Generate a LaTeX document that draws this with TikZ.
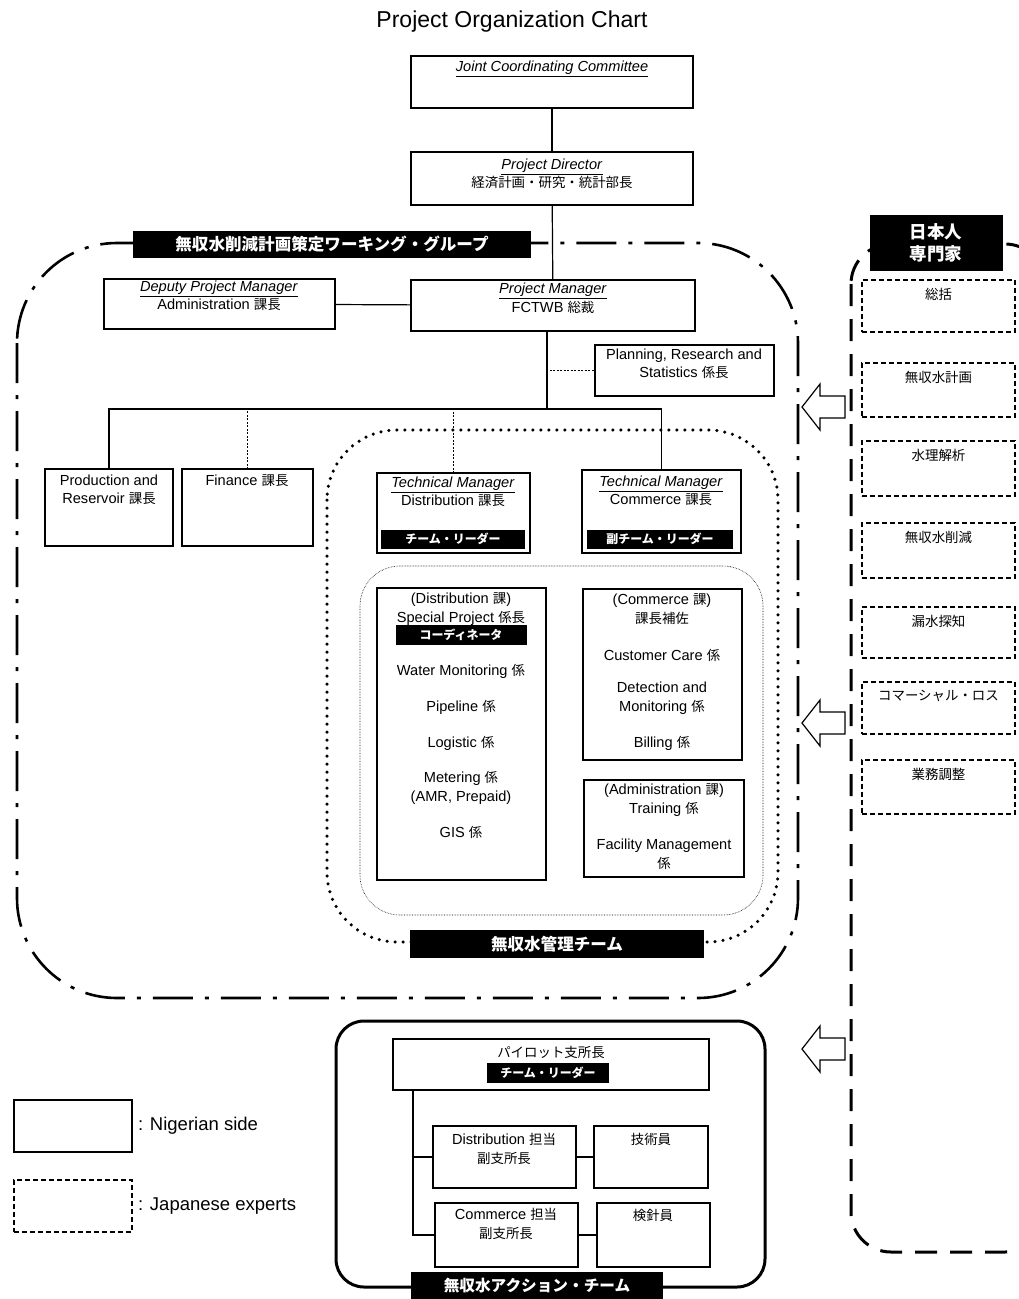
\documentclass[tikz,border=0pt]{standalone}
\usepackage{fontspec}
\setmainfont{Liberation Sans}
\newfontfamily\jp[Scale=0.92]{Noto Sans CJK JP}
\newcommand{\ja}[1]{{\jp #1}}
\newcommand{\ulit}[1]{\underline{\textit{#1}}}
\usetikzlibrary{positioning}

\begin{document}
\begin{tikzpicture}[
    x=1pt, y=-1pt,
    every node/.style={inner sep=0pt, outer sep=0pt},
    nbox/.style={draw, line width=1.2pt, anchor=north west},
    jbox/.style={draw, line width=1.2pt, dash pattern=on 5pt off 3pt, anchor=north west},
    lbl/.style={align=center, font=\fontsize{14.6}{18.5}\selectfont},
    banner/.style={fill=black, text=white, align=center,
        font=\jp\bfseries\fontsize{13}{16}\selectfont},
    link/.style={line width=1.2pt},
    thinlink/.style={line width=0.6pt, dash pattern=on 2pt off 1.5pt},
    hollowarrow/.style={draw, line width=1.2pt, fill=white, line join=miter},
    lefthollow/.pic={
        \draw[hollowarrow] (25,-11) -- (0,-11) -- (0,-23) -- (-18,0)
            -- (0,23) -- (0,11) -- (25,11) -- cycle;
    }
]
\useasboundingbox (0,0) rectangle (1019,1299);

% group outlines
\draw[line width=2.6pt, dash pattern=on 40pt off 12pt on 4pt off 12pt, rounded corners=100pt]
    (17,243) rectangle (798,998);
\draw[line width=3.5pt, line cap=round, dash pattern=on 0pt off 8pt, rounded corners=70pt]
    (327,430) rectangle (778,942);
\draw[line width=0.6pt, densely dotted, rounded corners=40pt]
    (360,566) rectangle (763,915);
\draw[line width=3pt, rounded corners=28pt] (336,1021) rectangle (765,1287);
\draw[line width=3pt, dash pattern=on 22pt off 13pt, rounded corners=40pt]
    (851,244) rectangle (1045,1252);

\node[font=\fontsize{23}{27}\selectfont] (title) at (512,22) {Project Organization Chart};

% nigerian side
\node[nbox, minimum width=282pt, minimum height=52pt] (jcc) at (411,56) {};
\node[nbox, minimum width=282pt, minimum height=53pt] (pd) at (411,152) {};
\node[nbox, minimum width=231pt, minimum height=50pt] (dpm) at (104,279) {};
\node[nbox, minimum width=284pt, minimum height=51pt] (pm) at (411,280) {};
\node[nbox, minimum width=179pt, minimum height=51pt] (pl) at (595,345) {};
\node[nbox, minimum width=128pt, minimum height=77pt] (prod) at (45,469) {};
\node[nbox, minimum width=131pt, minimum height=77pt] (fin) at (182,469) {};
\node[nbox, minimum width=153pt, minimum height=80pt] (tdm) at (377,473) {};
\node[nbox, minimum width=159pt, minimum height=83pt] (tcm) at (582,470) {};
\node[nbox, minimum width=169pt, minimum height=292pt] (dsec) at (377,588) {};
\node[nbox, minimum width=159pt, minimum height=171pt] (csec) at (583,589) {};
\node[nbox, minimum width=160pt, minimum height=97pt] (asec) at (584,780) {};

\node[lbl] (t-jcc) at (552,69) {\ulit{Joint Coordinating Committee}};
\node[lbl] (t-pd) at (552,174) {\ulit{Project Director}\\\ja{経済計画・研究・統計部長}};
\node[lbl] (t-dpm) at (219,296) {\ulit{Deputy Project Manager}\\Administration \ja{課長}};
\node[lbl] (t-pm) at (553,298) {\ulit{Project Manager}\\FCTWB \ja{総裁}};
\node[lbl] (t-pl) at (684,364) {Planning, Research and\\Statistics \ja{係長}};
\node[lbl] (t-prod) at (109,490) {Production and\\Reservoir \ja{課長}};
\node[lbl] (t-fin) at (247,481) {Finance \ja{課長}};
\node[lbl] (t-tdm) at (453,492) {\ulit{Technical Manager}\\Distribution \ja{課長}};
\node[lbl] (t-tcm) at (661,491) {\ulit{Technical Manager}\\Commerce \ja{課長}};
\node[banner, minimum width=144pt, minimum height=19pt] (tl1) at (453,539) {チーム・リーダー};
\node[banner, minimum width=146pt, minimum height=19pt] (vtl) at (660,539) {副チーム・リーダー};

\node[lbl] (t-dsec) at (461,609) {(Distribution \ja{課})\\Special Project \ja{係長}};
\node[banner, minimum width=131pt, minimum height=20pt] (coord) at (461,635) {コーディネータ};
\node[lbl] (t-water) at (461,671) {Water Monitoring \ja{係}};
\node[lbl] (t-pipe) at (461,707) {Pipeline \ja{係}};
\node[lbl] (t-logi) at (461,743) {Logistic \ja{係}};
\node[lbl] (t-meter) at (461,788) {Metering \ja{係}\\(AMR, Prepaid)};
\node[lbl] (t-gis) at (461,832) {GIS \ja{係}};

\node[lbl] (t-csec) at (662,609) {(Commerce \ja{課})\\\ja{課長補佐}};
\node[lbl] (t-care) at (662,655) {Customer Care \ja{係}};
\node[lbl] (t-detect) at (662,698) {Detection and\\Monitoring \ja{係}};
\node[lbl] (t-bill) at (662,743) {Billing \ja{係}};
\node[lbl] (t-asec) at (664,800) {(Administration \ja{課})\\Training \ja{係}};
\node[lbl] (t-facil) at (664,854) {Facility Management\\\ja{係}};

\node[banner, minimum width=398pt, minimum height=27pt,
    font=\jp\bfseries\fontsize{18}{20}\selectfont] (wgteam) at (332,244) {無収水削減計画策定ワーキング・グループ};
\node[banner, minimum width=294pt, minimum height=28pt,
    font=\jp\bfseries\fontsize{18}{20}\selectfont] (mgteam) at (557,944) {無収水管理チーム};

\draw[link] (jcc) -- (pd);
\draw[link] (pd) -- (pm);
\draw[link] (dpm) -- (pm);
\coordinate (bar) at (547,409);
\draw[link] (pm.south -| bar) -- (bar);
\draw[link] (prod.north) |- (bar) -| (tcm.north);
\draw[thinlink] (fin.north) -- (fin.north |- bar);
\draw[thinlink] (tdm.north) -- (tdm.north |- bar);
\draw[thinlink] (pm.south -| bar) |- (pl.west);

% japanese experts
\node[banner, minimum width=133pt, minimum height=56pt,
    font=\jp\bfseries\fontsize{19}{22}\selectfont] (jpexp) at (936,243) {日本人\\専門家};
\node[jbox, minimum width=153pt, minimum height=52pt] (e1) at (862,280) {};
\node[jbox, minimum width=153pt, minimum height=54pt] (e2) at (862,363) {};
\node[jbox, minimum width=153pt, minimum height=55pt] (e3) at (862,441) {};
\node[jbox, minimum width=153pt, minimum height=55pt] (e4) at (862,523) {};
\node[jbox, minimum width=153pt, minimum height=51pt] (e5) at (862,607) {};
\node[jbox, minimum width=153pt, minimum height=52pt] (e6) at (862,682) {};
\node[jbox, minimum width=153pt, minimum height=54pt] (e7) at (862,760) {};
\node[lbl, below=8pt of e1.north] (t-e1) {\ja{総括}};
\node[lbl, below=8pt of e2.north] (t-e2) {\ja{無収水計画}};
\node[lbl, below=8pt of e3.north] (t-e3) {\ja{水理解析}};
\node[lbl, below=8pt of e4.north] (t-e4) {\ja{無収水削減}};
\node[lbl, below=8pt of e5.north] (t-e5) {\ja{漏水探知}};
\node[lbl, below=8pt of e6.north] (t-e6) {\ja{コマーシャル・ロス}};
\node[lbl, below=8pt of e7.north] (t-e7) {\ja{業務調整}};

\pic at (820,407) {lefthollow};
\pic at (820,723) {lefthollow};
\pic at (820,1049) {lefthollow};

% action team
\node[nbox, minimum width=316pt, minimum height=51pt] (pilot) at (393,1039) {};
\node[nbox, minimum width=143pt, minimum height=62pt] (ddist) at (433,1126) {};
\node[nbox, minimum width=114pt, minimum height=62pt] (tech) at (594,1126) {};
\node[nbox, minimum width=143pt, minimum height=64pt] (dcom) at (435,1203) {};
\node[nbox, minimum width=113pt, minimum height=64pt] (meter) at (597,1203) {};
\node[lbl] (t-pilot) at (551,1052) {\ja{パイロット支所長}};
\node[banner, minimum width=122pt, minimum height=20pt] (tl2) at (548,1073) {チーム・リーダー};
\node[lbl] (t-ddist) at (504,1149) {Distribution \ja{担当}\\\ja{副支所長}};
\node[lbl] (t-tech) at (651,1139) {\ja{技術員}};
\node[lbl] (t-dcom) at (506,1224) {Commerce \ja{担当}\\\ja{副支所長}};
\node[lbl] (t-meter) at (653,1215) {\ja{検針員}};
\node[banner, minimum width=252pt, minimum height=28pt,
    font=\jp\bfseries\fontsize{17}{20}\selectfont] (acteam) at (537,1286) {無収水アクション・チーム};

\coordinate (trunk) at ([xshift=20pt]pilot.south west);
\draw[link] (trunk) |- (ddist.west);
\draw[link] (trunk) |- (dcom.west);
\draw[link] (ddist) -- (tech);
\draw[link] (dcom) -- (meter);

% legend
\node[nbox, minimum width=118pt, minimum height=52pt] (leg1) at (14,1100) {};
\node[jbox, minimum width=118pt, minimum height=52pt] (leg2) at (14,1180) {};
\node[anchor=west, font=\fontsize{18.5}{22}\selectfont, right=6pt of leg1] (t-leg1) {: Nigerian side};
\node[anchor=west, font=\fontsize{18.5}{22}\selectfont, right=6pt of leg2] (t-leg2) {: Japanese experts};

\end{tikzpicture}
\end{document}
